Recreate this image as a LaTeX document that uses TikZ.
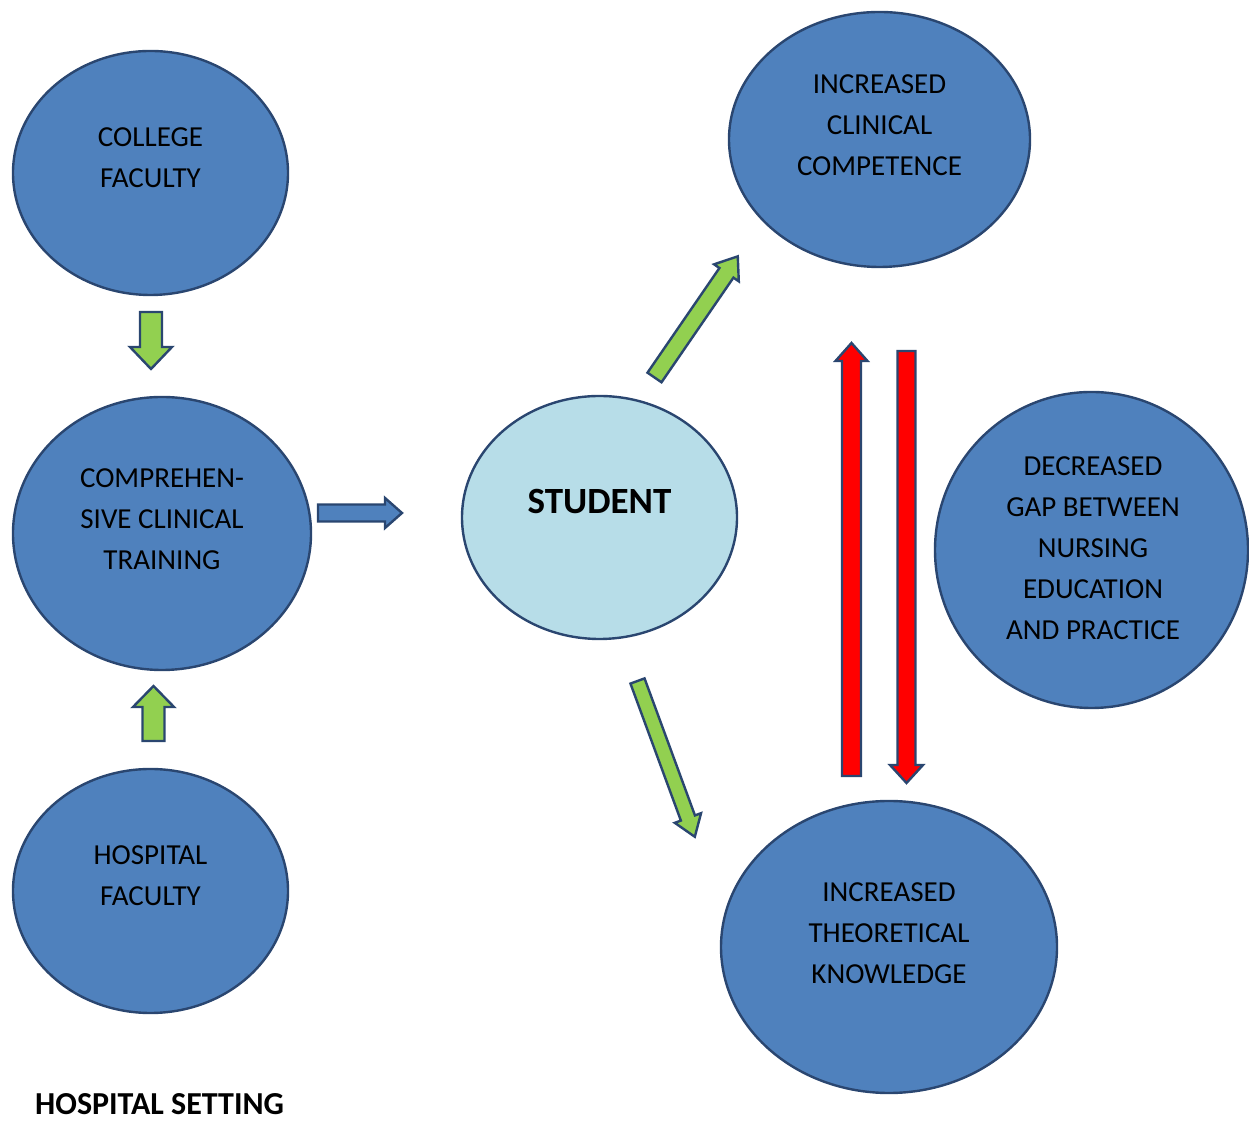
\documentclass[tikz,border=0pt]{standalone}
\usepackage{fontspec}
\setmainfont{Carlito}
\usepackage{tikz}
\usetikzlibrary{shapes}
\definecolor{bubbleblue}{HTML}{4F81BD}
\definecolor{bubbleedge}{HTML}{2A4670}
\definecolor{studentblue}{HTML}{B7DDE8}
\definecolor{arrowgreen}{HTML}{92D050}
\definecolor{arrowred}{HTML}{FF0000}
\tikzset{
	bubble/.style= {
		shape=ellipse, draw=bubbleedge, line width=2.4pt,
		fill=bubbleblue, inner sep=0
	},
	bubbletext/.style= {
		align=center, text=black,
		font=\fontsize{29}{41}\selectfont
	},
	greenarrow/.style={draw=bubbleedge, line width=2.4pt, fill=arrowgreen},
	redarrow/.style={draw=bubbleedge, line width=2.4pt, fill=arrowred},
	bluearrow/.style={draw=bubbleedge, line width=2.4pt, fill=bubbleblue}
}
% block arrow: style, tail, angle, length, shaft width, head width, head length
\newcommand{\blockarrow}[7]{%
	\begin{scope}[shift={#2}, rotate=#3]
		\draw[#1] (0,-#5/2) -- ({#4-#7},-#5/2) -- ({#4-#7},-#6/2) -- (#4,0)
			-- ({#4-#7},#6/2) -- ({#4-#7},#5/2) -- (0,#5/2) -- cycle;
	\end{scope}}

\begin{document}
\begin{tikzpicture}[x=1pt,y=1pt]
\useasboundingbox (0,0) rectangle (1249,1123);

% left column
\node[bubble, minimum width=275, minimum height=244] (college) at (150.5,950) {};
\node[bubbletext] (collegetxt) at (150.5,965) {COLLEGE\\FACULTY};
\node[bubble, minimum width=298, minimum height=273] (training) at (162,589.5) {};
\node[bubbletext] (trainingtxt) at (162,604) {COMPREHEN-\\SIVE CLINICAL\\TRAINING};
\node[bubble, minimum width=275, minimum height=244] (hospital) at (150.5,232) {};
\node[bubbletext] (hospitaltxt) at (150.5,247) {HOSPITAL\\FACULTY};

% student
\node[bubble, fill=studentblue, minimum width=275, minimum height=243] (student) at (599.5,605.5) {};
\node[font=\fontsize{37}{40}\selectfont\bfseries] (studenttxt) at (599.5,621) {STUDENT};

% right side
\node[bubble, minimum width=301, minimum height=255] (clinical) at (879.5,983.5) {};
\node[bubbletext] (clinicaltxt) at (879.5,998) {INCREASED\\CLINICAL\\COMPETENCE};
\node[bubble, minimum width=313, minimum height=316] (gap) at (1091.5,573) {};
\node[bubbletext] (gaptxt) at (1093,575) {DECREASED\\GAP BETWEEN\\NURSING\\EDUCATION\\AND PRACTICE};
\node[bubble, minimum width=336, minimum height=292] (theory) at (889,176) {};
\node[bubbletext] (theorytxt) at (889,190) {INCREASED\\THEORETICAL\\KNOWLEDGE};

% arrows
\coordinate (collegetail) at (151,811);
\coordinate (hospitaltail) at (153.5,382);
\coordinate (trainingtail) at (318,610);
\coordinate (clinicaltail) at (654.5,745.5);
\coordinate (theorytail) at (637.5,442);
\coordinate (uptail) at (851.5,347);
\coordinate (downtail) at (906.5,772);
\blockarrow{greenarrow}{(collegetail)}{-90}{57}{22}{42}{22}
\blockarrow{greenarrow}{(hospitaltail)}{90}{55}{22}{41}{21}
\blockarrow{bluearrow}{(trainingtail)}{0}{84}{17}{30}{17}
\blockarrow{greenarrow}{(clinicaltail)}{55.5}{147}{17}{30}{20}
\blockarrow{greenarrow}{(theorytail)}{-69.8}{166}{15}{28}{20}
\blockarrow{redarrow}{(uptail)}{90}{433}{19}{32}{18}
\blockarrow{redarrow}{(downtail)}{-90}{432}{18}{33}{18}

\node[anchor=base west, inner sep=0, font=\fontsize{32}{38}\selectfont\bfseries] (setting) at (35,8) {HOSPITAL SETTING};
\end{tikzpicture}
\end{document}
